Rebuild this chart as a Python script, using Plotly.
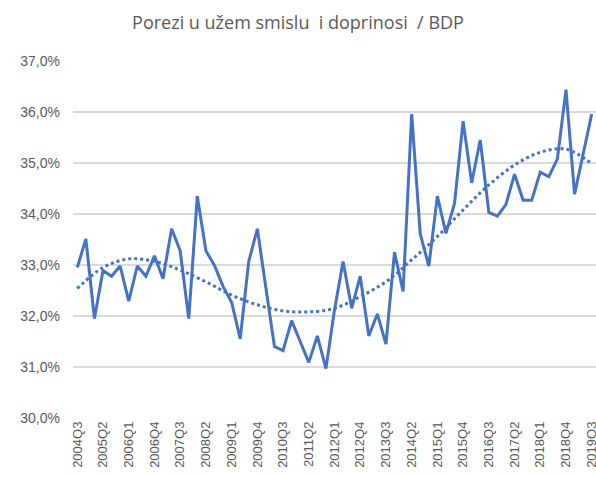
import plotly.graph_objects as go

quarters = [
    "2004Q3", "2004Q4",
    "2005Q1", "2005Q2", "2005Q3", "2005Q4",
    "2006Q1", "2006Q2", "2006Q3", "2006Q4",
    "2007Q1", "2007Q2", "2007Q3", "2007Q4",
    "2008Q1", "2008Q2", "2008Q3", "2008Q4",
    "2009Q1", "2009Q2", "2009Q3", "2009Q4",
    "2010Q1", "2010Q2", "2010Q3", "2010Q4",
    "2011Q1", "2011Q2", "2011Q3", "2011Q4",
    "2012Q1", "2012Q2", "2012Q3", "2012Q4",
    "2013Q1", "2013Q2", "2013Q3", "2013Q4",
    "2014Q1", "2014Q2", "2014Q3", "2014Q4",
    "2015Q1", "2015Q2", "2015Q3", "2015Q4",
    "2016Q1", "2016Q2", "2016Q3", "2016Q4",
    "2017Q1", "2017Q2", "2017Q3", "2017Q4",
    "2018Q1", "2018Q2", "2018Q3", "2018Q4",
    "2019Q1", "2019Q2", "2019Q3",
]

ratio = [
    32.95, 33.51, 31.95, 32.89, 32.78, 32.98, 32.29, 32.98, 32.78, 33.18,
    32.73, 33.71, 33.28, 31.95, 34.35, 33.28, 32.99, 32.58, 32.27, 31.55,
    33.07, 33.71, 32.55, 31.40, 31.32, 31.91, 31.50, 31.09, 31.61, 30.97,
    32.12, 33.07, 32.15, 32.78, 31.61, 32.04, 31.45, 33.25, 32.48, 35.96,
    33.61, 32.98, 34.35, 33.62, 34.21, 35.82, 34.61, 35.45, 34.03, 33.96,
    34.19, 34.78, 34.27, 34.27, 34.82, 34.73, 35.08, 36.44, 34.39, 35.18,
    35.96,
]

trend_labels = quarters[::3]
trend_values = [
    32.54, 32.95, 33.12, 33.07, 32.90, 32.67, 32.41, 32.22, 32.10, 32.08,
    32.15, 32.38, 32.67, 33.10, 33.56, 34.08, 34.57, 34.96, 35.21, 35.27,
    34.99,
]

y_ticks = [30, 31, 32, 33, 34, 35, 36, 37]
y_tick_text = ["30,0%", "31,0%", "32,0%", "33,0%", "34,0%", "35,0%", "36,0%", "37,0%"]

color = "#4472C4"
text_color = "#595959"

fig = go.Figure()
fig.add_trace(go.Scatter(
    x=quarters, y=ratio, mode="lines",
    line=dict(color=color, width=3), showlegend=False,
))
fig.add_trace(go.Scatter(
    x=trend_labels, y=trend_values, mode="lines",
    line=dict(color=color, width=3, dash="dot", shape="spline"), showlegend=False,
))

fig.update_layout(
    width=596, height=477,
    margin=dict(l=73, r=0, t=61, b=59),
    paper_bgcolor="white", plot_bgcolor="white",
    title=dict(
        text="Porezi u užem smislu\u00a0 i doprinosi\u00a0 / BDP",
        x=0.5, xanchor="center", y=1 - 23 / 477, yanchor="middle",
        font=dict(family="Open Sans", size=18, color=text_color),
    ),
    xaxis=dict(
        type="category", range=[-0.5, 60.5], automargin=False,
        tickmode="array", tickvals=trend_labels, ticktext=trend_labels,
        tickangle=-90, showgrid=False, showline=False, zeroline=False,
        ticks="", tickfont=dict(family="Liberation Sans", size=13, color=text_color),
    ),
    yaxis=dict(
        range=[30, 37], automargin=False, tickmode="array", tickvals=y_ticks, ticktext=y_tick_text,
        showgrid=True, gridcolor="#D9D9D9", gridwidth=1.5,
        zeroline=False, showline=False, ticks="", ticklabelstandoff=12,
        tickfont=dict(family="Liberation Sans", size=14, color=text_color),
    ),
)

fig.write_html(
    "out.html",
    config={"displayModeBar": False},
    post_script="document.body.style.margin='0';document.body.style.overflow='hidden';",
)
